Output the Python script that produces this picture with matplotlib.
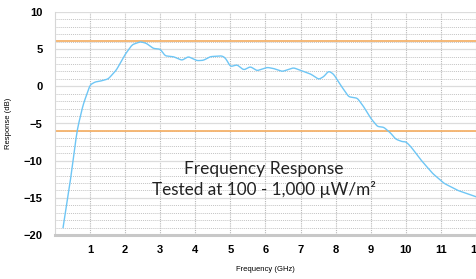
import matplotlib
import matplotlib.pyplot as plt
from matplotlib.ticker import MultipleLocator
import numpy as np
matplotlib.use('Agg')

# response curve (GHz, dB)
freq = [0.23, 0.45, 0.63, 0.8, 1.0, 1.15, 1.29, 1.52, 1.75, 2.0, 2.2, 2.43, 2.6, 2.8,
        3.0, 3.14, 3.37, 3.62, 3.8, 4.05, 4.23, 4.43, 4.76, 4.86, 5.0, 5.19, 5.38, 5.57,
        5.76, 6.05, 6.23, 6.48, 6.8, 7.05, 7.29, 7.52, 7.66, 7.8, 7.94, 8.14, 8.37, 8.62,
        8.8, 9.0, 9.19, 9.37, 9.57, 9.71, 9.9, 10.0, 10.14, 10.43, 10.76, 11.09, 11.48, 12.0]
resp = [-19.0, -12.3, -5.9, -2.5, 0.2, 0.6, 0.7, 1.0, 2.2, 4.3, 5.6, 6.0, 5.8, 5.1,
        5.0, 4.1, 4.0, 3.5, 4.0, 3.45, 3.5, 4.0, 4.1, 3.8, 2.65, 2.9, 2.2, 2.65,
        2.1, 2.55, 2.4, 2.0, 2.5, 2.05, 1.65, 0.94, 1.3, 2.06, 1.65, 0.17, -1.4, -1.6,
        -2.75, -4.3, -5.4, -5.5, -6.3, -7.1, -7.45, -7.45, -8.1, -9.9, -11.7, -13.05, -14.0, -14.85]

# limit lines
limits = [6.1, -6.0]

title1 = 'Frequency Response'
title2 = 'Tested at 100 - 1,000 µW/m²'

fig = plt.figure(figsize=(4.77, 2.79), dpi=100)
ax = fig.add_axes([55/477, 1 - 235/279, 421/477, 223/279])

# smooth the curve a bit between read points
xs = np.linspace(freq[0], freq[-1], 600)
ys = np.interp(xs, freq, resp)
k = np.ones(5) / 5
ys_s = np.convolve(np.pad(ys, 2, mode='reflect', reflect_type='odd'), k, mode='valid')
ax.plot(xs, ys_s, color='#6ec6f5', lw=1.0, zorder=3)

for v in limits:
    ax.axhline(v, color='#f5b26b', lw=1.3, zorder=2)

ax.set_xlim(0, 12)
ax.set_ylim(-20, 10)
ax.xaxis.set_major_locator(MultipleLocator(1))
ax.yaxis.set_major_locator(MultipleLocator(5))
ax.yaxis.set_minor_locator(MultipleLocator(1))
ax.grid(which='major', axis='x', color='#b8b8b8', ls=(0, (1, 1)), lw=0.8)
ax.grid(which='major', axis='y', color='#dcdcdc', ls='-', lw=0.9)
ax.grid(which='minor', axis='y', color='#c4c4c4', ls=(0, (1, 1)), lw=0.7)
ax.set_xticks([1, 2, 3, 4, 5, 6, 7, 8, 9, 10, 11, 12])
ax.tick_params(length=0, which='both')
ax.tick_params(axis='y', pad=9)
ax.tick_params(axis='x', pad=7)
for lab in ax.get_xticklabels() + ax.get_yticklabels():
    lab.set_fontweight('bold')
    lab.set_fontsize(8)
    lab.set_family('Liberation Sans')

for s in ['top', 'right']:
    ax.spines[s].set_visible(False)
ax.spines['left'].set_color('#d6d6d6')
ax.spines['bottom'].set_color('#c8c8c8')
ax.spines['bottom'].set_linewidth(2.2)

ax.set_xlabel('Frequency (GHz)', fontsize=5.5, family='Liberation Sans', labelpad=8)
ax.set_ylabel('Response (dB)', fontsize=5.5, family='Liberation Sans', labelpad=8)

ax.text(0.496, 0.296, title1, transform=ax.transAxes, ha='center', va='center',
        fontsize=12.5, family='Lato', color='#222222')
ax.text(0.496, 0.202, title2, transform=ax.transAxes, ha='center', va='center',
        fontsize=12.3, family='Lato', color='#222222')

fig.savefig('out.png', dpi=100)
